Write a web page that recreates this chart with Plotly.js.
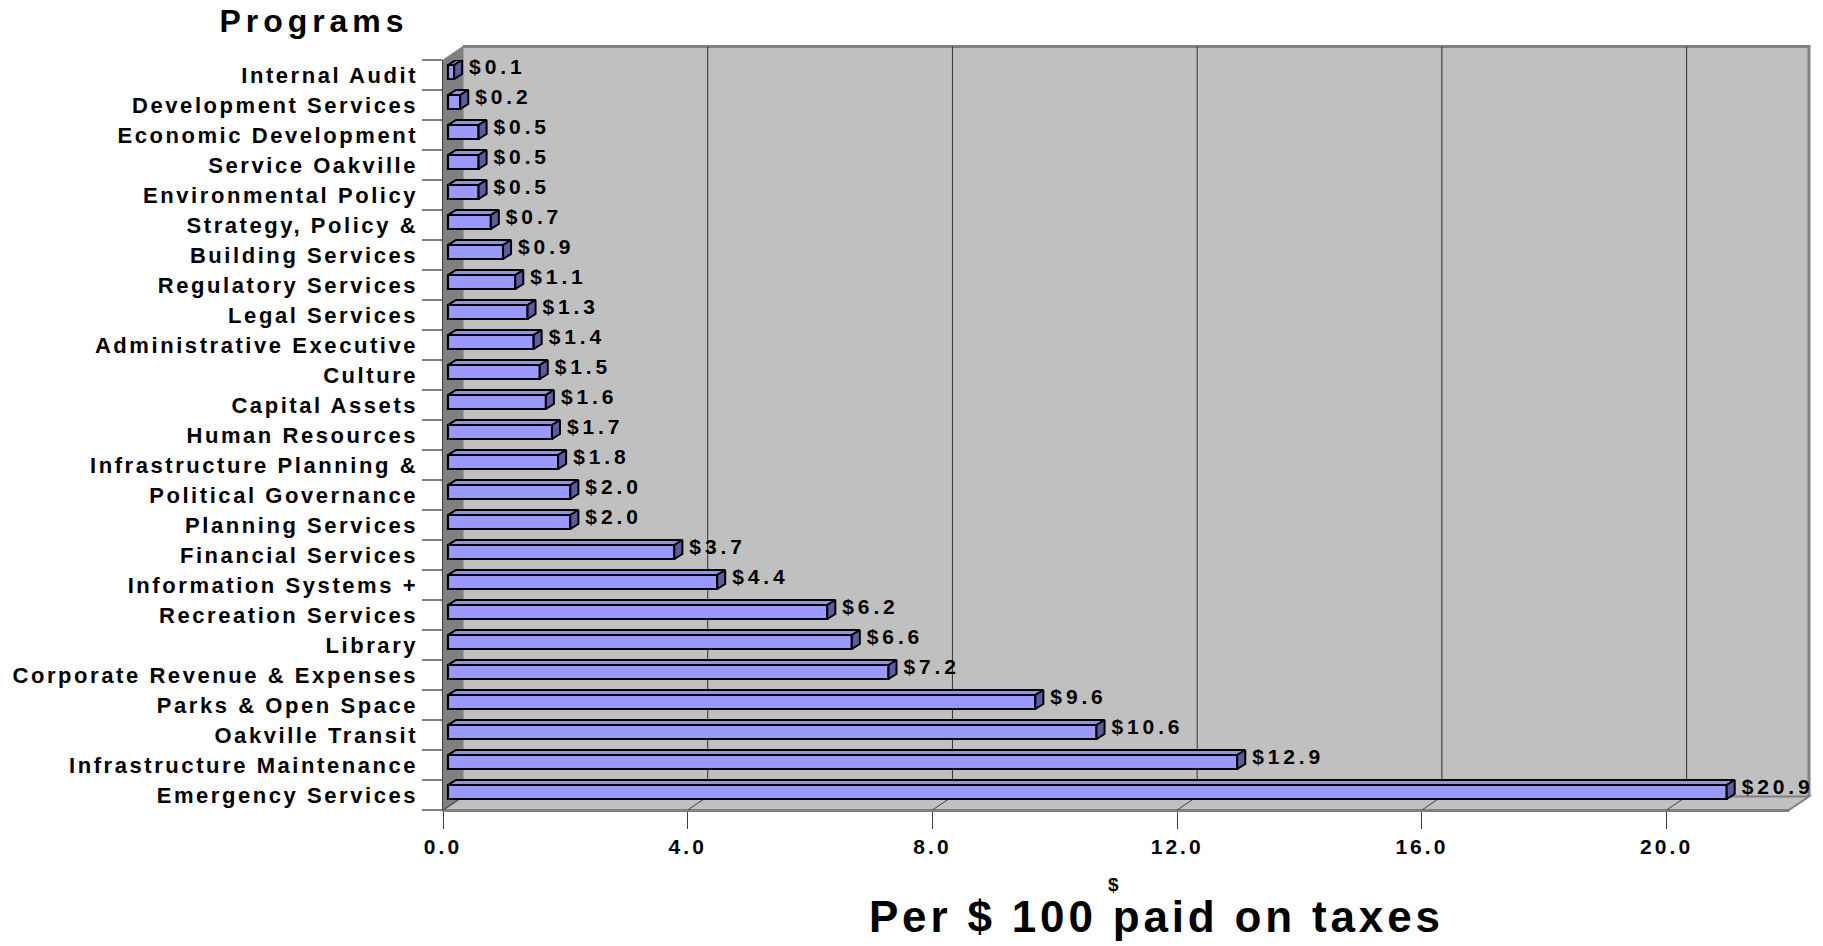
<!DOCTYPE html>
<html>
<head>
<meta charset="utf-8">
<script src="https://cdn.plot.ly/plotly-3.0.1.min.js"></script>
<style>
html,body{margin:0;padding:0;background:#fff;}
#chart{width:1823px;height:946px;}
</style>
</head>
<body>
<div id="chart"></div>
<script>
// ---------- data ----------
const categories = [
  "Internal Audit", "Development Services", "Economic Development", "Service Oakville",
  "Environmental Policy", "Strategy, Policy &", "Building Services", "Regulatory Services",
  "Legal Services", "Administrative Executive", "Culture", "Capital Assets",
  "Human Resources", "Infrastructure Planning &", "Political Governance", "Planning Services",
  "Financial Services", "Information Systems +", "Recreation Services", "Library",
  "Corporate Revenue & Expenses", "Parks & Open Space", "Oakville Transit",
  "Infrastructure Maintenance", "Emergency Services"
];
const values = [0.1, 0.2, 0.5, 0.5, 0.5, 0.7, 0.9, 1.1, 1.3, 1.4, 1.5, 1.6, 1.7, 1.8,
                2.0, 2.0, 3.7, 4.4, 6.2, 6.6, 7.2, 9.6, 10.6, 12.9, 20.9];
const valueLabels = values.map(v => "$" + v.toFixed(1));
const xTickValues = [0, 4, 8, 12, 16, 20];
const xTickLabels = xTickValues.map(v => v.toFixed(1));
const chartTitle = "Programs";
const axisTitle = "Per $ 100 paid on taxes";
const axisTitleMark = "$";

// ---------- geometry / style ----------
const FONT = "'Liberation Sans', Arial, sans-serif";
const W = 1823, H = 946;
const M = {l: 443, r: 34, t: 60, b: 136};
const plotW = W - M.l - M.r, plotH = H - M.t - M.b;
const XMAX = 22;
const pxX = plotW / XMAX;
const rowPx = plotH / categories.length;
const WALL_DX = 20, WALL_DY = 13.5;
const BAR_SHIFT = 5, BAR_DX = 8, BAR_DY = 5, BAR_TOP = -10, BAR_BOT = 4;
const LABEL_GAP = 7;

function measure(text, size) {
  const c = document.createElement("canvas").getContext("2d");
  c.font = "bold " + size + "px " + FONT;
  return c.measureText(text).width;
}
function spacing(text, size, target) {
  return Math.max(0, (target - measure(text, size)) / (text.length - 1));
}
const SZ = {cat: 22, val: 21, tick: 21, title: 32, axis: 44, mark: 19};
const sp = {
  cat: spacing("Corporate Revenue & Expenses", SZ.cat, 403),
  val: spacing("$20.9", SZ.val, 68),
  tick: spacing("20.0", SZ.tick, 50),
  title: spacing("Programs", SZ.title, 184),
  axis: spacing(axisTitle, SZ.axis, 571)
};
const st = document.createElement("style");
st.textContent =
  "#chart .ytick text{letter-spacing:" + sp.cat + "px}" +
  "#chart .xtick text{letter-spacing:" + sp.tick + "px}" +
  "#chart .gtitle{letter-spacing:" + sp.title + "px}" +
  "#chart .textpoint text{letter-spacing:" + sp.val + "px}" +
  "#chart .annotation[data-index='0'] .annotation-text{letter-spacing:" + sp.axis + "px}";
document.head.appendChild(st);

const idx = categories.map((c, i) => i);
const boundaries = idx.map(i => i - 0.5).concat([categories.length - 0.5]);

const b = BAR_SHIFT / pxX, dX = BAR_DX / pxX, dY = BAR_DY / rowPx;
const topX = [], topY = [], sideX = [], sideY = [];
values.forEach((v, i) => {
  const yt = i + BAR_TOP / rowPx, yb = i + BAR_BOT / rowPx;
  topX.push(b, b + dX, b + v + dX, b + v, b, null);
  topY.push(yt, yt - dY, yt - dY, yt, yt, null);
  sideX.push(b + v, b + v + dX, b + v + dX, b + v, b + v, null);
  sideY.push(yt, yt - dY, yb - dY, yb, yt, null);
});

const traces = [
  {
    type: "bar", orientation: "h", x: values, y: idx,
    base: b, width: (BAR_BOT - BAR_TOP) / rowPx, offset: BAR_TOP / rowPx,
    marker: {color: "#9999FF", line: {color: "#000000", width: 2.2}},
    hoverinfo: "skip"
  },
  {
    type: "scatter", mode: "lines", x: topX, y: topY, fill: "toself",
    fillcolor: "#8F8FF2", line: {color: "#000000", width: 2}, hoverinfo: "skip"
  },
  {
    type: "scatter", mode: "lines", x: sideX, y: sideY, fill: "toself",
    fillcolor: "#5C5C9E", line: {color: "#000000", width: 2}, hoverinfo: "skip"
  },
  {
    type: "scatter", mode: "text",
    x: values.map(v => b + v + dX + LABEL_GAP / pxX), y: idx.map(i => i - 0.2),
    text: valueLabels, textposition: "middle right",
    textfont: {family: FONT, size: SZ.val, color: "#000000", weight: "bold"},
    cliponaxis: false, hoverinfo: "skip"
  }
];

const dxp = WALL_DX / plotW, dyp = WALL_DY / plotH;
const shapes = [
  {type: "rect", xref: "paper", yref: "paper", x0: dxp, x1: 1 + dxp, y0: dyp, y1: 1 + dyp,
   fillcolor: "#C0C0C0", line: {width: 0}, layer: "below"},
  {type: "path", xref: "paper", yref: "paper",
   path: "M0,1L" + dxp + "," + (1 + dyp) + "L" + dxp + "," + dyp + "L0,0Z",
   fillcolor: "#808080", line: {color: "#808080", width: 1}, layer: "below"},
  {type: "path", xref: "paper", yref: "paper",
   path: "M0,0L1,0L" + (1 + dxp) + "," + dyp + "L" + dxp + "," + dyp + "Z",
   fillcolor: "#C0C0C0", line: {color: "#808080", width: 2}, layer: "below"},
  {type: "path", xref: "paper", yref: "paper",
   path: "M" + dxp + "," + (1 + dyp) + "L" + (1 + dxp) + "," + (1 + dyp) + "L" + (1 + dxp) + "," + dyp,
   line: {color: "#808080", width: 3}, layer: "below"}
];
xTickValues.filter(v => v > 0).forEach(v => shapes.push({
  type: "line", xref: "x", xsizemode: "pixel", xanchor: v, x0: WALL_DX, x1: WALL_DX,
  yref: "paper", y0: dyp, y1: 1 + dyp, line: {color: "#303030", width: 1}, layer: "below"
}));
xTickValues.forEach(v => shapes.push({
  type: "line", xref: "x", xsizemode: "pixel", xanchor: v, x0: 0, x1: WALL_DX,
  yref: "paper", ysizemode: "pixel", yanchor: 0, y0: 0, y1: WALL_DY,
  line: {color: "#404040", width: 1}, layer: "below"
}));

const layout = {
  width: W, height: H,
  margin: {l: M.l, r: M.r, t: M.t, b: M.b, pad: 0},
  paper_bgcolor: "#FFFFFF", plot_bgcolor: "rgba(0,0,0,0)",
  showlegend: false,
  title: {
    text: chartTitle, xref: "container", x: 314 / W, xanchor: "center",
    yref: "container", y: 1 - 21 / H, yanchor: "middle",
    font: {family: FONT, size: SZ.title, color: "#000000", weight: "bold"}
  },
  xaxis: {
    range: [0, XMAX], tickmode: "array", tickvals: xTickValues, ticktext: xTickLabels,
    ticks: "outside", ticklen: 17, tickcolor: "#404040", tickwidth: 1,
    showgrid: false, zeroline: false, showline: true, linecolor: "#808080", linewidth: 2,
    tickfont: {family: FONT, size: SZ.tick, color: "#000000", weight: "bold"},
    ticklabelstandoff: 0, fixedrange: true
  },
  yaxis: {
    range: [categories.length - 0.5, -0.5], tickmode: "array", tickvals: idx, ticktext: categories,
    ticks: "", showgrid: false, zeroline: false, showline: true, linecolor: "#404040", linewidth: 1.5,
    tickfont: {family: FONT, size: SZ.cat, color: "#000000", weight: "bold"},
    minor: {tickmode: "array", tickvals: boundaries, ticks: "outside", ticklen: 20,
            tickcolor: "#808080", tickwidth: 1.5, showgrid: false},
    ticklabelstandoff: 19, fixedrange: true
  },
  annotations: [
    {text: axisTitle, xref: "paper", yref: "paper", x: (1156 - M.l) / plotW,
     y: (H - M.b - 916) / plotH, xanchor: "center", yanchor: "middle", showarrow: false,
     font: {family: FONT, size: SZ.axis, color: "#000000", weight: "bold"}},
    {text: axisTitleMark, xref: "paper", yref: "paper", x: (1113 - M.l) / plotW,
     y: (H - M.b - 884) / plotH, xanchor: "center", yanchor: "middle", showarrow: false,
     font: {family: FONT, size: SZ.mark, color: "#000000", weight: "bold"}}
  ],
  shapes: shapes
};

Plotly.newPlot("chart", traces, layout, {staticPlot: true, displayModeBar: false});
</script>
</body>
</html>
